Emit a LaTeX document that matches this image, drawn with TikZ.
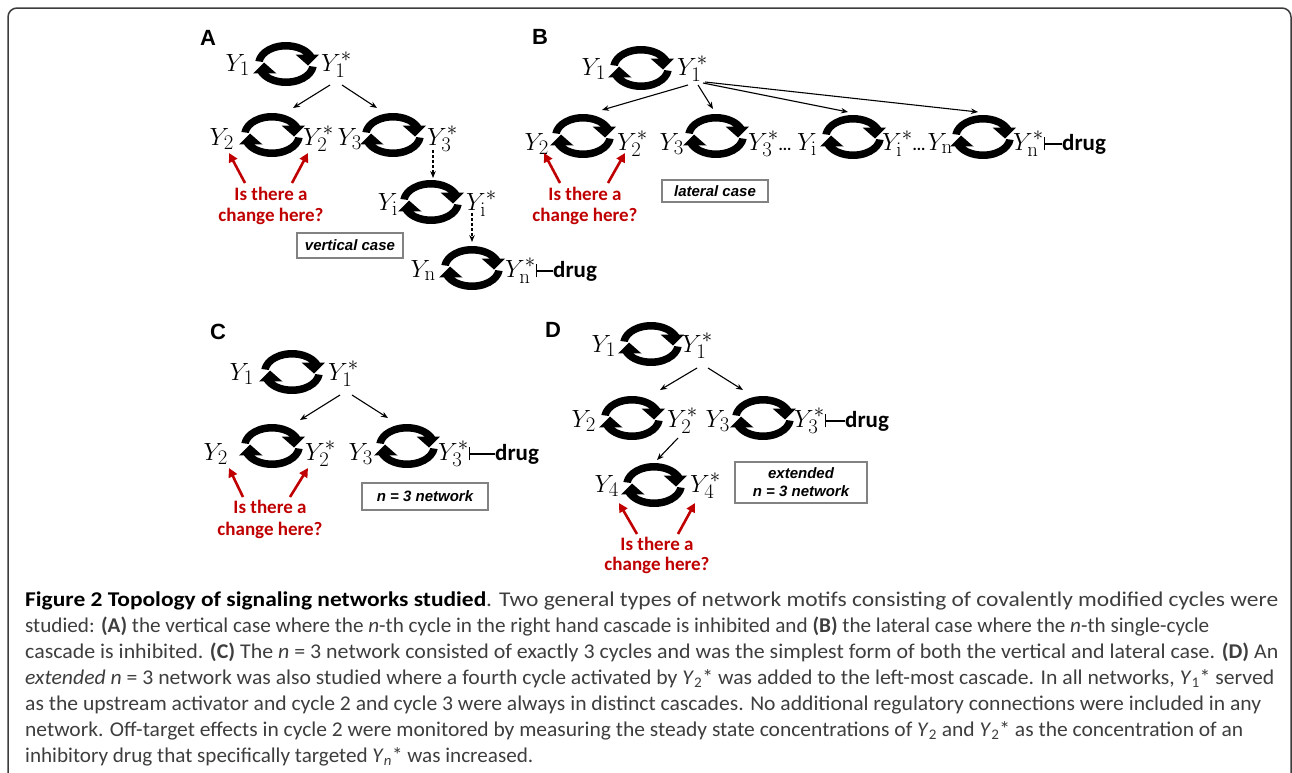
\documentclass[tikz,border=0pt]{standalone}
\usepackage[no-math]{fontspec}
\setmainfont{Carlito}
\newfontfamily\arialf{Liberation Sans}
\usepackage{graphicx}
\usetikzlibrary{arrows.meta,calc}
\definecolor{redq}{RGB}{192,0,0}
\definecolor{capcol}{RGB}{62,62,62}
\definecolor{boxgray}{RGB}{130,130,130}
\definecolor{framec}{RGB}{60,60,60}
\tikzset{
  x=1pt,y=-1pt,
  cychalf/.style={insert path={
    (172:31pt and 22pt) arc[start angle=172,end angle=25,x radius=31pt,y radius=22pt]
      -- (33pt,9.5pt) -- (22pt,-1.5pt) -- (9.5pt,9.5pt)
      -- (40:23.5pt and 14.5pt) arc[start angle=40,end angle=172,x radius=23.5pt,y radius=14.5pt] -- cycle}},
  cycico/.pic={
    \fill[cychalf];
    \fill[rotate=180,cychalf];
  },
  cyc/.style={minimum width=62pt,minimum height=44pt,inner sep=0pt,draw=none},
  yl/.style={inner sep=0pt,font=\fontsize{28}{30}\selectfont},
  arr/.style={-{Stealth[length=7pt,width=5.5pt]},line width=1.1pt},
  darr/.style={arr,dash pattern=on 3pt off 2pt},
  rarr/.style={-{Triangle[length=9pt,width=9pt]},line width=2.6pt,draw=redq},
  inh/.style={-{Bar[width=13pt,line width=1.3pt]},line width=1.3pt},
  drugt/.style={inner sep=0pt,font=\bfseries\fontsize{23}{25}\selectfont},
  qtxt/.style={inner sep=0pt,text=redq,font=\bfseries\fontsize{19}{21}\selectfont},
  boxl/.style={draw=boxgray,line width=1.2pt,inner sep=0pt,align=center,
    font=\arialf\bfseries\itshape\fontsize{15}{18}\selectfont},
  plab/.style={inner sep=0pt,font=\arialf\bfseries\fontsize{22}{24}\selectfont},
  capl/.style={inner sep=0pt,anchor=base west,text=capcol,font=\fontsize{21}{24}\selectfont},
}
\newcommand\Cyc[2]{\node[cyc] (#1) at (#2) {}; \pic at (#2) {cycico};}
\newcommand\capline[2]{\resizebox{#1pt}{\height}{#2}}
\newcommand\mydotsB{{\bfseries\fontsize{16}{18}\selectfont...}}
\begin{document}
\begin{tikzpicture}
\useasboundingbox (0,0) rectangle (1292,772);
\clip (0,0) rectangle (1292,772);
\fill[white] (0,0) rectangle (1292,772);
\draw[framec,line width=1.5pt,rounded corners=9pt] (8,800) -- (8,8) -- (1291,8) -- (1291,800);

% ---------------- Panel A ----------------
\node[plab] (LA) at (208,38) {A};
\Cyc{A1}{286,64}
\node[yl,anchor=base east] (A1l) at (250,71) {$Y_1$};
\node[yl,anchor=base west] (A1r) at (321,71) {$Y_1^*$};
\Cyc{A2}{272,135}
\node[yl,anchor=base east] (A2l) at (234,145) {$Y_2$};
\node[yl,anchor=base west] (A2r) at (303,145) {$Y_2^*$};
\Cyc{A3}{393,135}
\node[yl,anchor=base east] (A3l) at (362,145) {$Y_3$};
\node[yl,anchor=base west] (A3r) at (427,145) {$Y_3^*$};
\Cyc{Ai}{431,202}
\node[yl,anchor=base east] (Ail) at (398,210) {$Y_{\mathrm{i}}$};
\node[yl,anchor=base west] (Air) at (466,210) {$Y_{\mathrm{i}}^*$};
\Cyc{An}{472,268}
\node[yl,anchor=base east] (Anl) at (436,277) {$Y_{\mathrm{n}}$};
\node[yl,anchor=base west] (Anr) at (505,277) {$Y_{\mathrm{n}}^*$};
\node[drugt,anchor=base west] (drA) at (553,277) {drug};
\draw[inh] (drA.west) -- (Anr.east |- drA.west);
\draw[arr] ([shift={(44,21)}]A1.center) -- ([shift={(21,-27)}]A2.center);
\draw[arr] ([shift={(56,21)}]A1.center) -- ([shift={(-16,-27)}]A3.center);
\draw[darr] ([shift={(40,15)}]A3.center) -- ([shift={(2,-24)}]Ai.center);
\draw[darr] ([shift={(41,11)}]Ai.center) -- ([shift={(0,-26)}]An.center);
\node[qtxt,anchor=base] (qA1) at (271,200) {Is there a};
\node[qtxt,anchor=base] (qA2) at (271,221) {change here?};
\draw[rarr] ([shift={(-26,-17)}]qA1.base) -- ([shift={(-5,8)}]A2l.base east);
\draw[rarr] ([shift={(21,-17)}]qA1.base) -- ([shift={(5,8)}]A2r.base west);
\node[boxl,minimum width=106pt,minimum height=25pt] (bA) at (350,245.5) {vertical case};

% ---------------- Panel B ----------------
\node[plab] (LB) at (540,37) {B};
\Cyc{B1}{641,68}
\node[yl,anchor=base east] (B1l) at (606,75) {$Y_1$};
\node[yl,anchor=base west] (B1r) at (677,75) {$Y_1^*$};
\Cyc{B2}{583,136}
\node[yl,anchor=base east] (B2l) at (549,150) {$Y_2$};
\node[yl,anchor=base west] (B2r) at (617,150) {$Y_2^*$};
\Cyc{B3}{716,136}
\node[yl,anchor=base east] (B3l) at (684,150) {$Y_3$};
\node[yl,anchor=base west] (B3r) at (748,150) {$Y_3^*$\mydotsB};
\Cyc{Bi}{853,137}
\node[yl,anchor=base east] (Bil) at (817,150) {$Y_{\mathrm{i}}$};
\node[yl,anchor=base west] (Bir) at (882,150) {$Y_{\mathrm{i}}^*$\mydotsB};
\Cyc{Bn}{983,137}
\node[yl,anchor=base east] (Bnl) at (953,150) {$Y_{\mathrm{n}}$};
\node[yl,anchor=base west] (Bnr) at (1013,150) {$Y_{\mathrm{n}}^*$};
\node[drugt,anchor=base west] (drB) at (1062,150) {drug};
\draw[inh] (drB.west) -- (Bnr.east |- drB.west);
\draw[arr] ([shift={(47,17)}]B1.center) -- ([shift={(19,-26)}]B2.center);
\draw[arr] ([shift={(57,17)}]B1.center) -- ([shift={(-3,-27)}]B3.center);
\draw[arr] ([shift={(62,15)}]B1.center) -- ([shift={(-5,-25)}]Bi.center);
\draw[arr] ([shift={(64,14)}]B1.center) -- ([shift={(-5,-25)}]Bn.center);
\node[qtxt,anchor=base] (qB1) at (585,200) {Is there a};
\node[qtxt,anchor=base] (qB2) at (585,221) {change here?};
\draw[rarr] ([shift={(-25,-17)}]qB1.base) -- ([shift={(-5,3)}]B2l.base east);
\draw[rarr] ([shift={(23,-17)}]qB1.base) -- ([shift={(8,3)}]B2r.base west);
\node[boxl,minimum width=106pt,minimum height=22pt] (bB) at (715,191) {lateral case};

% ---------------- Panel C ----------------
\node[plab] (LC) at (218,332) {C};
\Cyc{C1}{292,372}
\node[yl,anchor=base east] (C1l) at (254,380) {$Y_1$};
\node[yl,anchor=base west] (C1r) at (328,380) {$Y_1^*$};
\Cyc{C2}{272,446}
\node[yl,anchor=base east] (C2l) at (228,460) {$Y_2$};
\node[yl,anchor=base west] (C2r) at (305,460) {$Y_2^*$};
\Cyc{C3}{407,446}
\node[yl,anchor=base east] (C3l) at (373,460) {$Y_3$};
\node[yl,anchor=base west] (C3r) at (438,460) {$Y_3^*$};
\node[drugt,anchor=base west] (drC) at (495,460) {drug};
\draw[inh] (drC.west) -- (C3r.east |- drC.west);
\draw[arr] ([shift={(48,23)}]C1.center) -- ([shift={(28,-26)}]C2.center);
\draw[arr] ([shift={(60,23)}]C1.center) -- ([shift={(-19,-28)}]C3.center);
\node[qtxt,anchor=base] (qC1) at (270,513) {Is there a};
\node[qtxt,anchor=base] (qC2) at (270,535) {change here?};
\draw[rarr] ([shift={(-27,-16)}]qC1.base) -- ([shift={(1,8)}]C2l.base east);
\draw[rarr] ([shift={(20,-16)}]qC1.base) -- ([shift={(3,8)}]C2r.base west);
\node[boxl,minimum width=126pt,minimum height=27pt] (bC) at (425,496.5) {n = 3 network};

% ---------------- Panel D ----------------
\node[plab] (LD) at (553,330) {D};
\Cyc{D1}{651,344}
\node[yl,anchor=base east] (D1l) at (616,352) {$Y_1$};
\node[yl,anchor=base west] (D1r) at (682,352) {$Y_1^*$};
\Cyc{D2}{632,418}
\node[yl,anchor=base east] (D2l) at (596,427) {$Y_2$};
\node[yl,anchor=base west] (D2r) at (667,427) {$Y_2^*$};
\Cyc{D3}{763,418}
\node[yl,anchor=base east] (D3l) at (730,427) {$Y_3$};
\node[yl,anchor=base west] (D3r) at (794,427) {$Y_3^*$};
\node[drugt,anchor=base west] (drD) at (845,427) {drug};
\draw[inh] (drD.west) -- (D3r.east |- drD.west);
\Cyc{D4}{654,485}
\node[yl,anchor=base east] (D4l) at (619,492) {$Y_4$};
\node[yl,anchor=base west] (D4r) at (690,492) {$Y_4^*$};
\draw[arr] ([shift={(46,24)}]D1.center) -- ([shift={(28,-28)}]D2.center);
\draw[arr] ([shift={(57,24)}]D1.center) -- ([shift={(-20,-28)}]D3.center);
\draw[arr] ([shift={(46,20)}]D2.center) -- ([shift={(3,-25)}]D4.center);
\node[qtxt,anchor=base] (qD1) at (657,550) {Is there a};
\node[qtxt,anchor=base] (qD2) at (657,570) {change here?};
\draw[rarr] ([shift={(-20,-16)}]qD1.base) -- ([shift={(0,11)}]D4l.base east);
\draw[rarr] ([shift={(21,-16)}]qD1.base) -- ([shift={(5,11)}]D4r.base west);
\node[boxl,minimum width=132pt,minimum height=41pt] (bD) at (801,482.5) {extended\\n = 3 network};

% ---------------- Caption ----------------
\node[capl] (cap1) at (25,606) {\capline{1253}{{\color{black}\bfseries Figure 2 Topology of signaling networks studied}. Two general types of network motifs consisting of covalently modified cycles were}};
\node[capl] (cap2) at (25,632) {\capline{1184}{studied: \textbf{(A)} the vertical case where the \textit{n}-th cycle in the right hand cascade is inhibited and \textbf{(B)} the lateral case where the \textit{n}-th single-cycle}};
\node[capl] (cap3) at (25,658) {\capline{1253}{cascade is inhibited. \textbf{(C)} The \textit{n} = 3 network consisted of exactly 3 cycles and was the simplest form of both the vertical and lateral case. \textbf{(D)} An}};
\node[capl] (cap4) at (25,684) {\capline{1249}{\textit{extended n} = 3 network was also studied where a fourth cycle activated by \textit{Y}\textsubscript{2}* was added to the left-most cascade. In all networks, \textit{Y}\textsubscript{1}* served}};
\node[capl] (cap5) at (25,710) {\capline{1236}{as the upstream activator and cycle 2 and cycle 3 were always in distinct cascades. No additional regulatory connections were included in any}};
\node[capl] (cap6) at (25,736) {\capline{1218}{network. Off-target effects in cycle 2 were monitored by measuring the steady state concentrations of \textit{Y}\textsubscript{2} and \textit{Y}\textsubscript{2}* as the concentration of an}};
\node[capl] (cap7) at (25,762) {\capline{508}{inhibitory drug that specifically targeted \textit{Y}\textsubscript{\textit{n}}* was increased.}};
\end{tikzpicture}
\end{document}
